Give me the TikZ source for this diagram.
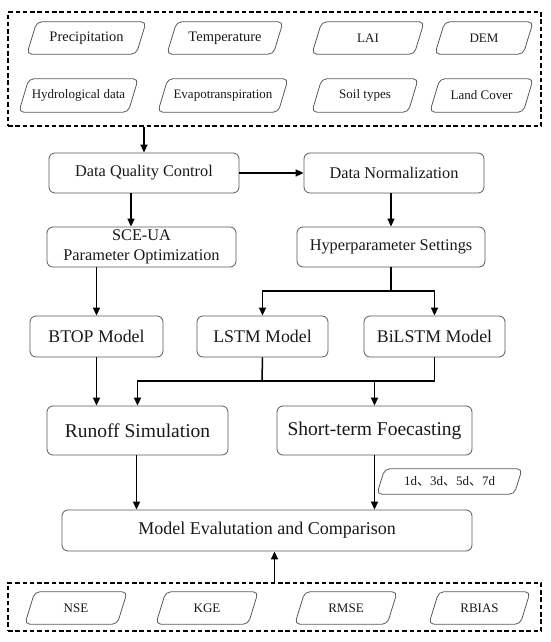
\documentclass[tikz,border=0pt]{standalone}
\usepackage{fontspec}
\setmainfont{Liberation Serif}
\newfontfamily\cjk{Noto Sans CJK SC}
\usetikzlibrary{arrows.meta}
\newcommand\pgbox[2][10pt]{%
  \draw[pline] (#2.south west) -- ([xshift=-#1]#2.south east) -- (#2.north east) -- ([xshift=#1]#2.north west) -- cycle;}
\begin{document}
\begin{tikzpicture}[x=1pt,y=-1pt,
  box/.style={draw=black!65,line width=0.8pt,rounded corners=6pt,inner sep=0pt,text=black!90,align=center},
  fs/.style={font=\fontsize{16.3}{20}\selectfont},
  fm/.style={font=\fontsize{17.8}{20}\selectfont},
  fl/.style={font=\fontsize{19.5}{22}\selectfont},
  fme/.style={font=\fontsize{18}{22}\selectfont},
  para/.style={inner sep=0pt,text=black!90},
  pline/.style={draw=black!65,line width=0.8pt,rounded corners=5pt},
  pbig/.style={font=\fontsize{14.5}{16}\selectfont},
  psm/.style={font=\fontsize{13}{15}\selectfont},
  dashbox/.style={draw=black,line width=1.5pt,dash pattern=on 4.5pt off 2.8pt,inner sep=0pt},
  arr/.style={draw=black,line width=1.5pt,-{Triangle[length=8pt,width=7pt]}},
  ln/.style={draw=black,line width=1.5pt}
]
\useasboundingbox (0,0) rectangle (550,642);
% top dashed group
\node[dashbox,minimum width=533pt,minimum height=114pt] (topbox) at (274.5,69) {};
\node[para,pbig,minimum width=119pt,minimum height=32pt] (p1) at (86.5,38) {Precipitation};
\node[para,pbig,minimum width=116pt,minimum height=32pt] (p2) at (225,38) {Temperature};
\node[para,psm,minimum width=112pt,minimum height=32pt] (p3) at (368,38) {LAI};
\node[para,psm,minimum width=98pt,minimum height=32pt] (p4) at (484,38) {DEM};
\node[para,psm,minimum width=119pt,minimum height=33pt] (p5) at (78.5,95.5) {Hydrological data};
\node[para,psm,minimum width=130pt,minimum height=33pt] (p6) at (223,95.5) {Evapotranspiration};
\node[para,psm,minimum width=106pt,minimum height=33pt] (p7) at (365,95.5) {Soil types};
\node[para,psm,minimum width=103pt,minimum height=33pt] (p8) at (481.5,95.5) {Land Cover};
\foreach \n in {p1,p2,p3,p4,p5,p6,p7,p8} {\pgbox{\n}}
% process boxes
\node[box,fs,minimum width=190pt,minimum height=40pt] (dqc) at (144,173) {Data Quality Control};
\node[box,fs,minimum width=180pt,minimum height=40pt] (dn) at (394,173) {Data Normalization};
\node[box,fs,minimum width=189pt,minimum height=40pt] (sce) at (141.5,247) {SCE-UA\\Parameter Optimization};
\node[box,fs,minimum width=188pt,minimum height=40pt] (hp) at (391,247) {Hyperparameter Settings};
\node[box,fm,minimum width=133pt,minimum height=41pt] (btop) at (96.5,336.5) {BTOP Model};
\node[box,fm,minimum width=131pt,minimum height=41pt] (lstm) at (262.5,336.5) {LSTM Model};
\node[box,fm,minimum width=141pt,minimum height=41pt] (bilstm) at (434.5,336.5) {BiLSTM Model};
\node[box,fl,minimum width=181pt,minimum height=49pt] (runoff) at (137.5,430.5) {Runoff Simulation};
\node[box,fl,minimum width=195pt,minimum height=49pt] (short) at (374.5,430.5) {Short-term Foecasting};
\node[para,psm,minimum width=145pt,minimum height=25pt] (lead) at (449.5,481.5) {1d{\cjk 、}3d{\cjk 、}5d{\cjk 、}7d};
\pgbox[8pt]{lead}
\node[box,fme,minimum width=410pt,minimum height=41pt] (me) at (267,530.5) {Model Evalutation and Comparison};
% bottom dashed group
\node[dashbox,minimum width=533pt,minimum height=48pt] (botbox) at (274.5,607) {};
\node[para,psm,minimum width=102pt,minimum height=32pt] (q1) at (76,608) {NSE};
\node[para,psm,minimum width=102pt,minimum height=32pt] (q2) at (207,608) {KGE};
\node[para,psm,minimum width=102pt,minimum height=32pt] (q3) at (346,608) {RMSE};
\node[para,psm,minimum width=101pt,minimum height=32pt] (q4) at (479.5,608) {RBIAS};
\foreach \n in {q1,q2,q3,q4} {\pgbox{\n}}
% junction coordinates
\coordinate (hpj) at (391,291);
\coordinate (mj) at (262,381);
% connectors
\draw[arr] (dqc.north |- topbox.south) -- (dqc.north);
\draw[arr] (dqc.east) -- (dn.west);
\draw[arr] ([xshift=-13pt]dqc.south) -- ([xshift=-13pt]dqc.south |- sce.north);
\draw[arr] ([xshift=-3pt]dn.south) -- ([xshift=-3pt]dn.south |- hp.north);
\draw[ln] (hp.south) -- (hpj);
\draw[arr] (hpj) -| (lstm.north);
\draw[arr] (hpj) -| (bilstm.north);
\draw[arr] (btop.north |- sce.south) -- (btop.north);
\draw[arr] (btop.south) -- (btop.south |- runoff.north);
\draw[ln] (lstm.south) -- (mj);
\draw[arr] (bilstm.south) |- (runoff.north |- mj) -- (runoff.north);
\draw[arr] (short.north |- mj) -- (short.north);
\draw[arr] ([xshift=-1pt]runoff.south) -- ([xshift=-1pt]runoff.south |- me.north);
\draw[arr] (short.south) -- (short.south |- me.north);
\draw[arr] (botbox.north) -- (botbox.north |- me.south);
\end{tikzpicture}
\end{document}
